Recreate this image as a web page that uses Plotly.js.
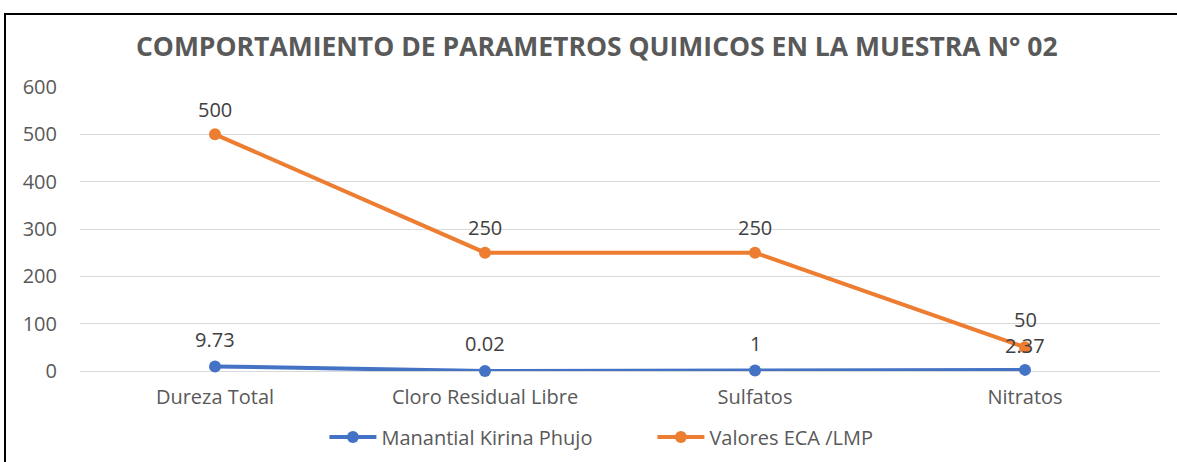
<!DOCTYPE html>
<html><head><meta charset="utf-8">
<script src="https://cdn.plot.ly/plotly-3.0.1.min.js"></script>
<style>
html,body{margin:0;padding:0;background:#fff;}
#wrap{position:relative;width:1177px;height:462px;overflow:hidden;}
#chart{position:absolute;left:0;top:0;width:1177px;height:462px;}
#frame{position:absolute;left:4px;top:13px;width:1200px;height:500px;border-top:2px solid #000;border-left:2px solid #000;pointer-events:none;}
</style></head>
<body><div id="wrap"><div id="chart"></div><div id="frame"></div></div>
<script>
const categories = ["Dureza Total", "Cloro Residual Libre", "Sulfatos", "Nitratos"];
const manantial = [9.73, 0.02, 1, 2.37];
const manantialLabels = ["9.73", "0.02", "1", "2.37"];
const eca = [500, 250, 250, 50];
const ecaLabels = ["500", "250", "250", "50"];
const seriesNames = ["Manantial Kirina Phujo", "Valores ECA /LMP"];
const yTicks = [0, 100, 200, 300, 400, 500, 600];

const font = "Open Sans, Noto Sans, sans-serif";
const blue = "#4472C4", orange = "#ED7D31";
const fs = 20;

const traces = [
  {x: categories, y: manantial, name: seriesNames[0], type: "scatter", mode: "lines+markers",
   line: {color: blue, width: 4}, marker: {color: blue, size: 12}, cliponaxis: false},
  {x: categories, y: eca, name: seriesNames[1], type: "scatter", mode: "lines+markers",
   line: {color: orange, width: 4}, marker: {color: orange, size: 12}, cliponaxis: false}
];

const annotations = [];
categories.forEach((c, i) => {
  const last = i === categories.length - 1;
  annotations.push({x: c, y: eca[i], text: ecaLabels[i], showarrow: false, yshift: last ? 28 : 25,
    font: {family: font, size: fs, color: "#404040"}});
  annotations.push({x: c, y: manantial[i], text: manantialLabels[i], showarrow: false, yshift: last ? 24 : 27,
    font: {family: font, size: fs, color: "#404040"}});
});

const layout = {
  width: 1177, height: 462,
  margin: {l: 80, r: 17, t: 87, b: 91},
  paper_bgcolor: "#fff", plot_bgcolor: "#fff",
  font: {family: font, size: fs, color: "#595959"},
  title: {text: "<b>COMPORTAMIENTO DE PARAMETROS QUIMICOS EN LA MUESTRA N° 02</b>",
    font: {family: font, size: 26.5, color: "#595959"}, x: 0.507, xanchor: "center", y: 0.898, yanchor: "middle"},
  xaxis: {type: "category", range: [-0.5, 3.5], showgrid: false, zeroline: false, showline: false,
    ticks: "", ticklabelstandoff: 12, tickfont: {family: font, size: fs, color: "#595959"}},
  yaxis: {range: [0, 600], tickvals: yTicks, ticktext: yTicks.map(String), showgrid: true,
    gridcolor: "#d9d9d9", gridwidth: 1, zeroline: true, zerolinecolor: "#d9d9d9", zerolinewidth: 1,
    showline: false, ticks: "", ticklen: 0, ticklabelstandoff: 22,
    tickfont: {family: font, size: fs, color: "#595959"}},
  showlegend: true,
  legend: {orientation: "h", x: 0.53, xanchor: "center", xref: "paper",
    y: 1 - 437/462, yanchor: "middle", yref: "container",
    font: {family: font, size: fs, color: "#595959"}, itemwidth: 47, entrywidth: 266, entrywidthmode: "pixels",
    traceorder: "normal"},
  annotations: annotations
};

Plotly.newPlot("chart", traces, layout, {displayModeBar: false, staticPlot: true});
</script></body></html>
